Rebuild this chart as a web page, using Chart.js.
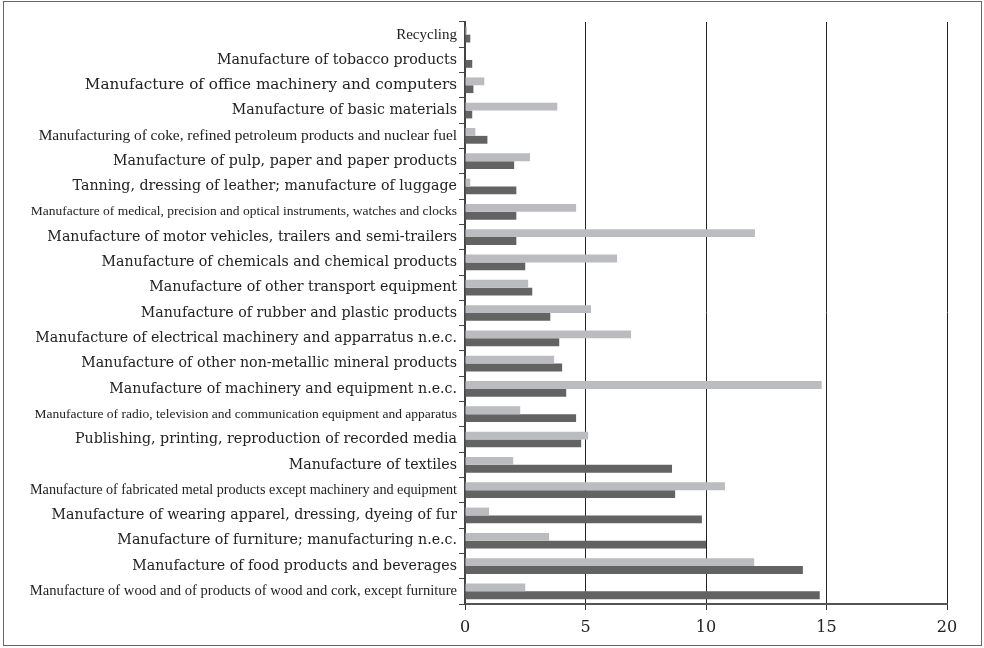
<!DOCTYPE html>
<html>
<head>
<meta charset="utf-8">
<script src="https://cdn.jsdelivr.net/npm/chart.js@4"></script>
<style>
  html, body { margin: 0; padding: 0; background: #fff; }
  #wrap { position: relative; width: 984px; height: 648px; }
  #frame { position: absolute; left: 3px; top: 1px; width: 979px; height: 645px; border: 1.5px solid #666; box-sizing: border-box; pointer-events: none; }
  canvas { display: block; }
</style>
</head>
<body>
<div id="wrap">
  <canvas id="c" width="984" height="648"></canvas>
  <div id="frame"></div>
</div>
<script>
const categories = [
  "Recycling",
  "Manufacture of tobacco products",
  "Manufacture of office machinery and computers",
  "Manufacture of basic materials",
  "Manufacturing of coke, refined petroleum products and nuclear fuel",
  "Manufacture of pulp, paper and paper products",
  "Tanning, dressing of leather; manufacture of luggage",
  "Manufacture of medical, precision and optical instruments, watches and clocks",
  "Manufacture of motor vehicles, trailers and semi-trailers",
  "Manufacture of chemicals and chemical products",
  "Manufacture of other transport equipment",
  "Manufacture of rubber and plastic products",
  "Manufacture of electrical machinery and apparratus n.e.c.",
  "Manufacture of other non-metallic mineral products",
  "Manufacture of machinery and equipment n.e.c.",
  "Manufacture of radio, television and communication equipment and apparatus",
  "Publishing, printing, reproduction of recorded media",
  "Manufacture of textiles",
  "Manufacture of fabricated metal products except machinery and equipment",
  "Manufacture of wearing apparel, dressing, dyeing of fur",
  "Manufacture of furniture; manufacturing n.e.c.",
  "Manufacture of food products and beverages",
  "Manufacture of wood and of products of wood and cork, except furniture"
];
// light grey series (upper bar of each pair)
const seriesLight = [0.08, 0, 0.8, 3.83, 0.43, 2.7, 0.22, 4.61, 12.03, 6.31, 2.62, 5.23, 6.89, 3.7, 14.8, 2.29, 5.11, 2.0, 10.79, 1.0, 3.49, 12.0, 2.5];
// dark grey series (lower bar of each pair)
const seriesDark = [0.22, 0.3, 0.35, 0.3, 0.93, 2.04, 2.13, 2.13, 2.13, 2.5, 2.79, 3.54, 3.91, 4.03, 4.2, 4.61, 4.82, 8.59, 8.72, 9.83, 10.0, 14.02, 14.72];
const xTicks = [0, 5, 10, 15, 20];
// labels set in a narrower face in the original (index -> font size)
const narrowLabelSizes = { 0: 15, 4: 15.4, 7: 13.5, 15: 13.5, 18: 14.2, 22: 14.6 };
// labels in the regular face whose size differs from the default
const regularLabelSizes = { 2: 15.2 };

const ctx = document.getElementById('c');
new Chart(ctx, {
  type: 'bar',
  data: {
    labels: categories,
    datasets: [
      { label: 'Series 1', data: seriesLight, backgroundColor: '#bbbcbf', borderWidth: 0, categoryPercentage: 0.62, barPercentage: 1.0 },
      { label: 'Series 2', data: seriesDark, backgroundColor: '#636363', borderWidth: 0, categoryPercentage: 0.62, barPercentage: 1.0 }
    ]
  },
  options: {
    indexAxis: 'y',
    responsive: false,
    animation: false,
    layout: { padding: { left: 0, right: 37, top: 22, bottom: 0 } },
    plugins: { legend: { display: false }, tooltip: { enabled: false } },
    scales: {
      x: {
        min: 0, max: 20,
        afterBuildTicks: (s) => { s.ticks = xTicks.map(v => ({ value: v })); },
        afterFit: (s) => { s.height = 44; },
        grid: {
          color: (c) => c.tick && c.tick.value === 0 ? 'rgba(0,0,0,0)' : '#222',
          lineWidth: 1,
          tickLength: 6,
          tickColor: '#333',
          drawTicks: true
        },
        border: { display: true, color: '#555', width: 2 },
        ticks: {
          color: '#222',
          padding: 8,
          font: { family: 'DejaVu Serif', size: 16 }
        }
      },
      y: {
        afterFit: (s) => { s.width = 465; },
        grid: {
          drawOnChartArea: false,
          drawTicks: true,
          tickLength: 6,
          tickColor: '#444',
          offset: true
        },
        border: { display: true, color: '#444', width: 2 },
        ticks: {
          color: '#222',
          padding: 2,
          autoSkip: false,
          font: (c) => (c.index in narrowLabelSizes)
            ? { family: 'Liberation Serif', size: narrowLabelSizes[c.index] }
            : { family: 'DejaVu Serif', size: regularLabelSizes[c.index] || 14.2 }
        }
      }
    }
  }
});
</script>
</body>
</html>
